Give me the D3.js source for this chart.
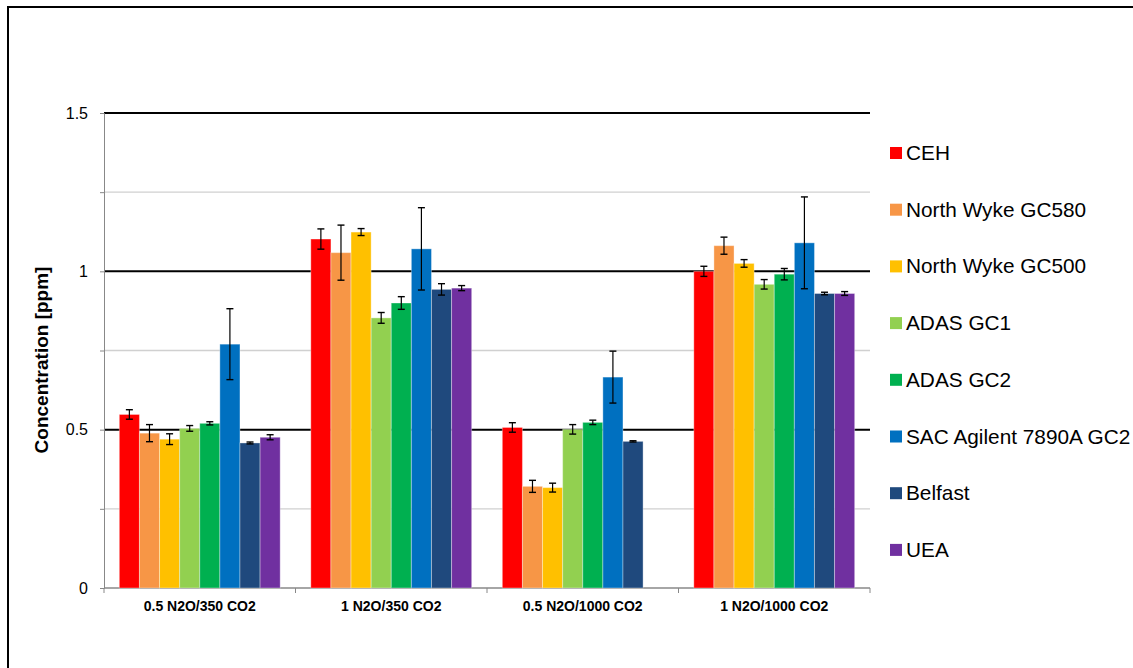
<!DOCTYPE html>
<html>
<head>
<meta charset="utf-8">
<script src="https://cdn.jsdelivr.net/npm/d3@7"></script>
<style>
  body { margin: 0; background: #fff; }
  svg { font-family: 'Liberation Sans', Arial, sans-serif; }
</style>
</head>
<body>
<svg id="chart" width="1133" height="668"></svg>
<script>
const categories = ['0.5 N2O/350 CO2', '1 N2O/350 CO2', '0.5 N2O/1000 CO2', '1 N2O/1000 CO2'];
const seriesNames = ['CEH', 'North Wyke GC580', 'North Wyke GC500', 'ADAS GC1', 'ADAS GC2', 'SAC Agilent 7890A GC2', 'Belfast', 'UEA'];
const seriesColours = ['#ff0000', '#f79646', '#ffc000', '#92d050', '#00b050', '#0070c0', '#1f497d', '#7030a0'];

// one row per series, one value per category (null = not measured)
const means = [
  [0.548, 1.102, 0.507, 1.000],
  [0.489, 1.059, 0.321, 1.081],
  [0.470, 1.124, 0.317, 1.025],
  [0.504, 0.853, 0.501, 0.959],
  [0.520, 0.900, 0.523, 0.991],
  [0.770, 1.071, 0.666, 1.090],
  [0.458, 0.943, 0.463, 0.930],
  [0.476, 0.947, null, 0.930]
];
const errors = [
  [0.015, 0.032, 0.015, 0.016],
  [0.027, 0.087, 0.019, 0.027],
  [0.017, 0.011, 0.014, 0.012],
  [0.009, 0.017, 0.015, 0.015],
  [0.005, 0.020, 0.007, 0.018],
  [0.112, 0.130, 0.082, 0.145],
  [0.003, 0.018, 0.002, 0.004],
  [0.008, 0.008, null, 0.006]
];
const majorTicks = [0, 0.5, 1, 1.5];
const minorTicks = [0.25, 0.75, 1.25];

const svg = d3.select('#chart');

// outer frame
svg.append('rect')
  .attr('x', 8).attr('y', 7)
  .attr('width', 1140).attr('height', 680)
  .attr('fill', 'none')
  .attr('stroke', '#000')
  .attr('stroke-width', 2);

const plotLeft = 104, plotRight = 870, plotTop = 113, plotBottom = 588;

const y = d3.scaleLinear().domain([0, 1.5]).range([plotBottom, plotTop]);
const x0 = d3.scaleBand().domain(categories).range([plotLeft, plotRight]).paddingInner(0.16).paddingOuter(0.08);
const x1 = d3.scaleBand().domain(seriesNames).range([0, x0.bandwidth()]);

const chart = svg.append('g');

// gridlines
chart.selectAll('.minor').data(minorTicks).join('line')
  .attr('x1', plotLeft).attr('x2', plotRight)
  .attr('y1', d => y(d)).attr('y2', d => y(d))
  .attr('stroke', '#d0d0d0').attr('stroke-width', 1.3);
chart.selectAll('.major').data(majorTicks.filter(d => d > 0)).join('line')
  .attr('x1', plotLeft).attr('x2', plotRight)
  .attr('y1', d => y(d)).attr('y2', d => y(d))
  .attr('stroke', '#000').attr('stroke-width', 2);

// y axis
const yAxis = d3.axisLeft(y).tickValues(majorTicks.concat(minorTicks)).tickSize(4)
  .tickFormat(d => majorTicks.includes(d) ? d3.format('')(d) : '');
const yg = chart.append('g').attr('transform', `translate(${plotLeft},0)`).call(yAxis);
yg.select('.domain').attr('stroke', '#888');
yg.selectAll('.tick line').attr('stroke', '#888');
yg.selectAll('.tick text').attr('x', -16).style('font-size', '16px').attr('fill', '#000');

// x axis
const xg = chart.append('g').attr('transform', `translate(0,${plotBottom})`);
xg.append('line').attr('x1', plotLeft).attr('x2', plotRight).attr('stroke', '#888').attr('stroke-width', 1.3);
const step = (plotRight - plotLeft) / categories.length;
xg.selectAll('.xt').data(d3.range(categories.length + 1)).join('line')
  .attr('x1', d => plotLeft + d * step).attr('x2', d => plotLeft + d * step)
  .attr('y1', 0).attr('y2', 5).attr('stroke', '#888');
xg.selectAll('.xl').data(categories).join('text')
  .attr('x', d => x0(d) + x0.bandwidth() / 2)
  .attr('y', 23)
  .attr('text-anchor', 'middle')
  .style('font-size', '14px').style('font-weight', 'bold')
  .text(d => d);

// bars
const flat = [];
seriesNames.forEach((s, i) => {
  categories.forEach((c, j) => {
    if (means[i][j] != null) flat.push({ s, c, i, v: means[i][j], e: errors[i][j] });
  });
});

chart.selectAll('.bar').data(flat).join('rect')
  .attr('x', d => x0(d.c) + x1(d.s))
  .attr('y', d => y(d.v))
  .attr('width', x1.bandwidth())
  .attr('height', d => plotBottom - y(d.v))
  .attr('fill', d => seriesColours[d.i])
  .attr('stroke', '#fff').attr('stroke-opacity', 0.35).attr('stroke-width', 1);

// error bars
const eg = chart.selectAll('.err').data(flat).join('g')
  .attr('transform', d => `translate(${x0(d.c) + x1(d.s) + x1.bandwidth() / 2},0)`);
eg.append('line')
  .attr('y1', d => y(d.v + d.e)).attr('y2', d => y(d.v - d.e))
  .attr('stroke', '#000').attr('stroke-width', 1.2);
eg.append('line')
  .attr('x1', -3.5).attr('x2', 3.5)
  .attr('y1', d => y(d.v + d.e)).attr('y2', d => y(d.v + d.e))
  .attr('stroke', '#000').attr('stroke-width', 1.4);
eg.append('line')
  .attr('x1', -3.5).attr('x2', 3.5)
  .attr('y1', d => y(d.v - d.e)).attr('y2', d => y(d.v - d.e))
  .attr('stroke', '#000').attr('stroke-width', 1.4);

// y title
svg.append('text')
  .attr('transform', 'translate(48,360) rotate(-90)')
  .attr('text-anchor', 'middle')
  .style('font-size', '19px').style('font-weight', 'bold')
  .text('Concentration [ppm]');

// legend
const legend = svg.append('g').attr('transform', 'translate(890,153)');
const li = legend.selectAll('g').data(seriesNames).join('g')
  .attr('transform', (d, i) => `translate(0,${i * 56.7})`);
li.append('rect')
  .attr('x', 0).attr('y', -6).attr('width', 12).attr('height', 12)
  .attr('fill', (d, i) => seriesColours[i]);
li.append('text')
  .attr('x', 16).attr('y', 7)
  .style('font-size', '20.8px')
  .text(d => d);
</script>
</body>
</html>
